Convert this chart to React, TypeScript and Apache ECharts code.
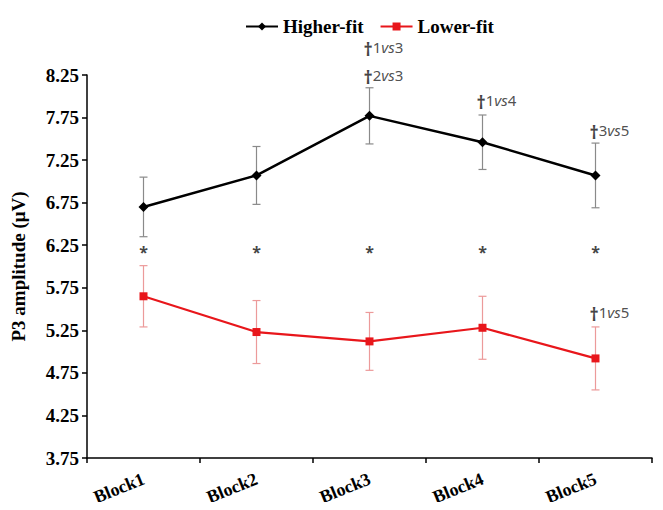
import React, { useEffect, useRef } from "react";
import * as echarts from "echarts";

const categories = ["Block1", "Block2", "Block3", "Block4", "Block5"];
const higherFit = [6.70, 7.07, 7.77, 7.46, 7.07];
const higherErr = [0.35, 0.34, 0.33, 0.32, 0.38];
const lowerFit = [5.65, 5.23, 5.12, 5.28, 4.92];
const lowerErr = [0.36, 0.37, 0.34, 0.37, 0.37];
const yTicks = [3.75, 4.25, 4.75, 5.25, 5.75, 6.25, 6.75, 7.25, 7.75, 8.25];
const starY = 6.22;
const annotCats = ["Block3", "Block3", "Block4", "Block5", "Block5"];
const annotY = [8.58, 8.25, 7.96, 7.6, 5.47];
const annotA = ["1", "2", "1", "3", "1"];
const annotB = ["3", "3", "4", "5", "5"];

const SERIF = "'Liberation Serif', 'Times New Roman', serif";
const SANS = "'Noto Sans', 'Open Sans', sans-serif";

function errorBars(vals: number[], errs: number[], color: string) {
  return {
    type: "custom",
    silent: true,
    z: 1,
    data: vals.map((v, i) => [i, v - errs[i], v + errs[i]]),
    renderItem: (params: any, api: any) => {
      const i = api.value(0);
      const lo = api.coord([i, api.value(1)]);
      const hi = api.coord([i, api.value(2)]);
      const w = 4;
      const style = { stroke: color, lineWidth: 1.2 };
      return {
        type: "group",
        children: [
          { type: "line", shape: { x1: lo[0], y1: lo[1], x2: hi[0], y2: hi[1] }, style },
          { type: "line", shape: { x1: lo[0] - w, y1: lo[1], x2: lo[0] + w, y2: lo[1] }, style },
          { type: "line", shape: { x1: hi[0] - w, y1: hi[1], x2: hi[0] + w, y2: hi[1] }, style },
        ],
      };
    },
  };
}

export default function App() {
  const ref = useRef<HTMLDivElement>(null);
  useEffect(() => {
    if (!ref.current) return;
    const chart = echarts.init(ref.current, null, { renderer: "svg" });
    chart.setOption({
      animation: false,
      backgroundColor: "#fff",
      legend: {
        data: ["Higher-fit", "Lower-fit"],
        left: 240,
        top: 12,
        itemWidth: 32,
        itemHeight: 10,
        itemGap: 16,
        textStyle: { fontFamily: SERIF, fontWeight: "bold", fontSize: 19, color: "#000" },
      },
      grid: { left: 87, right: 11, top: 75, bottom: 52, containLabel: false },
      xAxis: {
        type: "category",
        data: categories,
        boundaryGap: true,
        axisLine: { lineStyle: { color: "#000", width: 1.5 } },
        axisTick: { show: true, length: 5, lineStyle: { color: "#000", width: 1.5 } },
        axisLabel: {
          rotate: 22,
          margin: 20,
          fontFamily: SERIF,
          fontWeight: "bold",
          fontSize: 18,
          color: "#000",
        },
        splitLine: { show: false },
      },
      yAxis: {
        type: "value",
        min: 3.75,
        max: 8.25,
        name: "P3 amplitude (μV)",
        nameLocation: "middle",
        nameGap: 59,
        nameTextStyle: { fontFamily: SERIF, fontWeight: "bold", fontSize: 19, color: "#000" },
        axisLine: { show: true, lineStyle: { color: "#000", width: 1.5 } },
        axisTick: { show: true, length: 5, customValues: yTicks, lineStyle: { color: "#000", width: 1.5 } },
        axisLabel: {
          customValues: yTicks,
          formatter: (v: number) => v.toFixed(2),
          margin: 8,
          fontFamily: SERIF,
          fontWeight: "bold",
          fontSize: 19,
          color: "#000",
        },
        splitLine: { show: false },
      },
      series: [
        errorBars(higherFit, higherErr, "#8a8a8a"),
        errorBars(lowerFit, lowerErr, "#ec9a9a"),
        {
          name: "Higher-fit",
          type: "line",
          data: higherFit,
          z: 3,
          symbol: "diamond",
          symbolSize: 10,
          lineStyle: { color: "#000", width: 2.5 },
          itemStyle: { color: "#000" },
        },
        {
          name: "Lower-fit",
          type: "line",
          data: lowerFit,
          z: 3,
          symbol: "rect",
          symbolSize: 8,
          lineStyle: { color: "#e8161b", width: 2.2 },
          itemStyle: { color: "#e8161b" },
        },
        {
          name: "stars",
          type: "scatter",
          silent: true,
          symbolSize: 1,
          itemStyle: { color: "rgba(0,0,0,0)" },
          data: categories.map((c) => [c, starY]),
          label: {
            show: true,
            position: "inside",
            formatter: "*",
            fontFamily: SANS,
            fontSize: 16,
            fontWeight: "bold",
            color: "#111",
            offset: [0, 4],
          },
        },
        {
          name: "annot",
          type: "scatter",
          silent: true,
          clip: false,
          symbolSize: 1,
          itemStyle: { color: "rgba(0,0,0,0)" },
          data: annotCats.map((c, i) => ({
            value: [c, annotY[i]],
            label: {
              formatter: `{d|†}{n|${annotA[i]}}{i|vs}{n|${annotB[i]}}`,
            },
          })),
          label: {
            show: true,
            position: "inside",
            align: "left",
            offset: [-6, 0],
            rich: {
              d: { fontFamily: SANS, fontSize: 18, fontWeight: "bold", color: "#111", verticalAlign: "top", padding: [4, 0, 0, 0] },
              n: { fontFamily: SANS, fontSize: 15, color: "#222" },
              i: { fontFamily: SANS, fontSize: 15, fontStyle: "italic", color: "#222" },
            },
          },
        },
      ],
    });
    return () => chart.dispose();
  }, []);
  return <div ref={ref} style={{ width: 663, height: 510, margin: -8 }} />;
}
